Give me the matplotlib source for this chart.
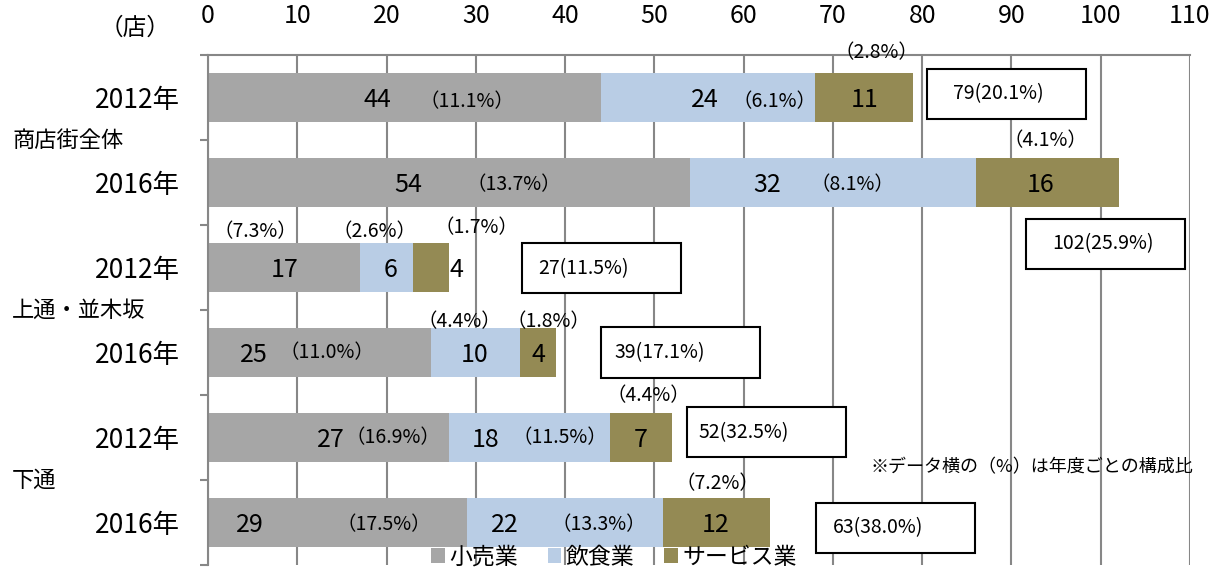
import matplotlib.pyplot as plt
import matplotlib.transforms as mtransforms
from matplotlib.patches import Rectangle

plt.rcParams['font.family'] = ['Noto Sans CJK JP', 'DejaVu Sans']

# data
years = ['2012年', '2016年', '2012年', '2016年', '2012年', '2016年']
groups = ['商店街全体', '上通・並木坂', '下通']
series = ['小売業', '飲食業', 'サービス業']
retail = [44, 54, 17, 25, 27, 29]
food = [24, 32, 6, 10, 18, 22]
service = [11, 16, 4, 4, 7, 12]
retail_pct = ['11.1', '13.7', '7.3', '11.0', '16.9', '17.5']
food_pct = ['6.1', '8.1', '2.6', '4.4', '11.5', '13.3']
service_pct = ['2.8', '4.1', '1.7', '1.8', '4.4', '7.2']
total_pct = ['20.1', '25.9', '11.5', '17.1', '32.5', '38.0']
colors = ['#A6A6A6', '#B9CDE5', '#948A54']

# label placement (x in data units, dy relative to the bar centre)
num_x = [[19.0, 55.6, 73.5], [22.4, 62.6, 93.3], [8.6, 20.5, 27.8],
         [5.1, 29.9, 37.0], [13.7, 31.1, 48.5], [4.7, 33.3, 56.9]]
pct_pos = [[(29.0, 0.05), (63.4, 0.05), (74.9, -0.53)],
           [(34.3, 0.03), (72.2, 0.03), (93.8, -0.49)],
           [(5.3, -0.42), (18.6, -0.42), (30.1, -0.47)],
           [(13.3, 0.0), (28.2, -0.36), (38.1, -0.36)],
           [(20.7, 0.0), (39.4, 0.0), (49.3, -0.49)],
           [(19.7, 0.03), (43.8, 0.03), (57.1, -0.46)]]
box_pos = [(89.4, -0.04), (100.5, 0.72), (44.1, 0.01),
           (52.9, 0.0), (62.6, -0.06), (77.0, 0.06)]
box_text_dx = [-0.9, -0.3, -2.1, -2.3, -2.6, -1.9]
box_w, box_h = 17.8, 0.59


def main():
    fig = plt.figure(figsize=(12.21, 5.71), dpi=100)
    ax = fig.add_axes([0.1704, 0.0105, 0.8042, 0.8932])

    ypos = list(range(len(years)))
    left = [0] * len(years)
    for vals, name, c in zip([retail, food, service], series, colors):
        ax.barh(ypos, vals, left=left, height=0.565, color=c, label=name, zorder=2)
        left = [a + b for a, b in zip(left, vals)]
    totals = left

    ax.set_xlim(0, 110)
    ax.set_ylim(5.5, -0.5)
    ax.set_xticks(range(0, 111, 10))
    ax.xaxis.tick_top()
    ax.tick_params(axis='x', length=0, pad=19, labelsize=18)
    ax.grid(axis='x', color='#878787', linewidth=1.5, zorder=0)
    ax.set_axisbelow(True)

    ax.set_yticks(ypos)
    ax.set_yticklabels(years)
    ax.tick_params(axis='y', which='major', length=0, pad=20, labelsize=19)
    ax.set_yticks([i - 0.5 for i in range(len(years) + 1)], minor=True)
    ax.tick_params(axis='y', which='minor', length=6, width=1.5, color='#878787')

    for side in ['right', 'bottom']:
        ax.spines[side].set_visible(False)
    for side in ['top', 'left']:
        ax.spines[side].set_color('#878787')
        ax.spines[side].set_linewidth(1.5)

    # data labels
    pcts = [retail_pct, food_pct, service_pct]
    vals_all = [retail, food, service]
    for i in ypos:
        for k in range(3):
            ax.text(num_x[i][k], i + 0.03, str(vals_all[k][i]), ha='center', va='center',
                    fontsize=18, zorder=4)
            px, dy = pct_pos[i][k]
            ax.text(px, i + dy, '（' + pcts[k][i] + '%）', ha='center', va='center',
                    fontsize=14, zorder=4)
        bx, bdy = box_pos[i]
        ax.add_patch(Rectangle((bx - box_w / 2, i + bdy - box_h / 2), box_w, box_h,
                               facecolor='white', edgecolor='black', linewidth=1.5, zorder=3))
        ax.text(bx + box_text_dx[i], i + bdy, str(totals[i]) + '(' + total_pct[i] + '%)',
                ha='center', va='center', fontsize=14, zorder=4)

    # group labels on the left
    trans = mtransforms.blended_transform_factory(fig.transFigure, ax.transData)
    for g, name in enumerate(groups):
        ax.text(12 / 1221, 2 * g + 0.5, name, transform=trans,
                fontsize=16, ha='left', va='center')

    ax.text(74.2, 4.35, '※データ横の（%）は年度ごとの構成比', fontsize=13,
            ha='left', va='center', zorder=4)
    fig.text(135 / 1221, 1 - 28 / 571, '（店）', fontsize=17, ha='center', va='center')

    ax.legend(loc='center', bbox_to_anchor=(614 / 1221, 1 - 557 / 571),
              bbox_transform=fig.transFigure, ncol=3, frameon=False, fontsize=16.5,
              handlelength=0.6, handleheight=0.6, handletextpad=0.2, columnspacing=1.3)

    fig.savefig('out.png', dpi=100)


if __name__ == '__main__':
    main()
